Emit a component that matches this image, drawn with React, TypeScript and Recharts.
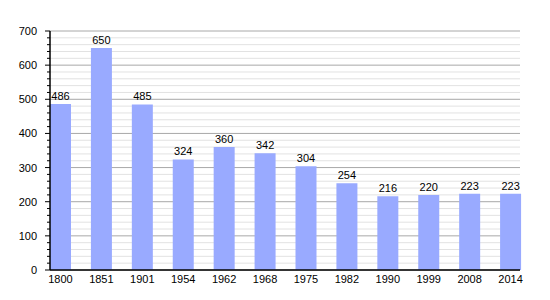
import React from "react";
import {
  BarChart,
  Bar,
  XAxis,
  YAxis,
  CartesianGrid,
  LabelList,
} from "recharts";

const years = ["1800", "1851", "1901", "1954", "1962", "1968", "1975", "1982", "1990", "1999", "2008", "2014"];
const population = [486, 650, 485, 324, 360, 342, 304, 254, 216, 220, 223, 223];
const yTicks = [
  0, 20, 40, 60, 80, 100, 120, 140, 160, 180, 200, 220, 240, 260, 280, 300, 320, 340,
  360, 380, 400, 420, 440, 460, 480, 500, 520, 540, 560, 580, 600, 620, 640, 660, 680, 700,
];

const data = years.map((year, i) => ({ year, value: population[i] }));

const FONT = "'Liberation Sans', Arial, sans-serif";

function YTick(props: any) {
  const { x, y, payload } = props;
  const major = payload.value % 100 === 0;
  return (
    <g>
      <line x1={x - (major ? 5 : 3)} y1={y} x2={x} y2={y} stroke="#000" strokeWidth={1} />
      {major && (
        <text x={x - 13} y={y} dy={4} textAnchor="end" fontSize={11} fontFamily={FONT} fill="#000">
          {payload.value}
        </text>
      )}
    </g>
  );
}

function XTick(props: any) {
  const { x, y, payload } = props;
  return (
    <text x={x} y={y} dy={13} textAnchor="middle" fontSize={11} fontFamily={FONT} fill="#000">
      {payload.value}
    </text>
  );
}

function GridLine(props: any) {
  const { x1, x2, y1, y2, index } = props;
  const major = yTicks[index] % 100 === 0;
  return (
    <line
      x1={x1}
      x2={x2}
      y1={y1}
      y2={y2}
      stroke={major ? "#a8a8a8" : "#e2e2e2"}
      strokeWidth={1}
    />
  );
}

export default function App() {
  return (
    <div style={{ position: "absolute", left: 0, top: 0, background: "#fff" }}>
      <BarChart
        width={550}
        height={300}
        data={data}
        margin={{ top: 31, right: 30, bottom: 0, left: 0 }}
        barSize={21}
      >
        <CartesianGrid vertical={false} horizontal={GridLine} />
        <XAxis
          dataKey="year"
          padding={{ left: -10, right: -11 }}
          height={30}
          axisLine={{ stroke: "#000", strokeWidth: 1.5 }}
          tickLine={false}
          tickSize={0}
          tickMargin={0}
          tick={<XTick />}
          interval={0}
        />
        <YAxis
          width={50}
          domain={[0, 700]}
          ticks={yTicks}
          interval={0}
          axisLine={{ stroke: "#000", strokeWidth: 1.5 }}
          tickLine={false}
          tickSize={0}
          tickMargin={0}
          tick={<YTick />}
        />
        <Bar dataKey="value" fill="#99aaff" isAnimationActive={false}>
          <LabelList
            dataKey="value"
            position="top"
            offset={4}
            fontSize={11}
            fontFamily={FONT}
            fill="#000"
          />
        </Bar>
      </BarChart>
    </div>
  );
}
